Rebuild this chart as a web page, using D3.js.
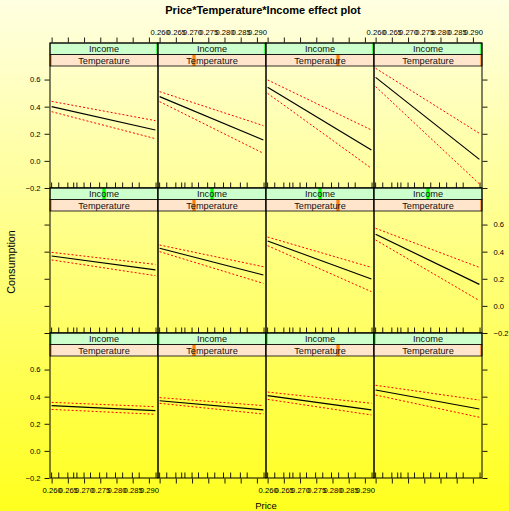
<!DOCTYPE html>
<html>
<head>
<meta charset="utf-8">
<script src="https://cdn.jsdelivr.net/npm/d3@7"></script>
<style>
  body { margin: 0; }
  svg { display: block; font-family: "Liberation Sans", Arial, sans-serif; }
</style>
</head>
<body>
<svg id="chart" width="509" height="511"></svg>
<script>
/* global d3 */

// chart values
const priceTicks = [0.260, 0.265, 0.270, 0.275, 0.280, 0.285, 0.290];
const priceTickLabels = ['0.260', '0.265', '0.270', '0.275', '0.280', '0.285', '0.290'];
const consTicks = [-0.2, 0.0, 0.2, 0.4, 0.6];
const consTickLabels = ['\u22120.2', '0.0', '0.2', '0.4', '0.6'];
const priceRange = [0.260, 0.292];
const rugPrices = [0.2600, 0.2622, 0.2650, 0.2668, 0.2678, 0.2700, 0.2720, 0.2748,
  0.2770, 0.2797, 0.2819, 0.2849, 0.2870, 0.2922];

// rows: Income high -> low, columns: Temperature low -> high
const incomeLevel = [1, 0.5, 0];
const temperatureLevel = [0, 1 / 3, 2 / 3, 1];

// fitted value and bands at the two ends of priceRange
const fitLeft = [
  [0.400, 0.474, 0.543, 0.616],
  [0.368, 0.425, 0.479, 0.528],
  [0.334, 0.370, 0.407, 0.449]];
const fitRight = [
  [0.228, 0.154, 0.080, 0.011],
  [0.265, 0.228, 0.198, 0.159],
  [0.297, 0.302, 0.302, 0.309]];
const upperLeft = [
  [0.439, 0.511, 0.597, 0.683],
  [0.395, 0.449, 0.508, 0.572],
  [0.358, 0.393, 0.434, 0.484]];
const upperRight = [
  [0.297, 0.260, 0.228, 0.203],
  [0.306, 0.289, 0.284, 0.284],
  [0.326, 0.334, 0.351, 0.375]];
const lowerLeft = [
  [0.363, 0.437, 0.498, 0.548],
  [0.339, 0.400, 0.444, 0.486],
  [0.306, 0.351, 0.380, 0.412]];
const lowerRight = [
  [0.164, 0.056, -0.055, -0.170],
  [0.223, 0.166, 0.105, 0.039],
  [0.270, 0.272, 0.265, 0.248]];

const svg = d3.select('#chart');

// background gradient
const grad = svg.append('defs').append('linearGradient')
  .attr('id', 'bg').attr('x1', 0).attr('y1', 0).attr('x2', 0).attr('y2', 1);
grad.append('stop').attr('offset', '0%').attr('stop-color', '#ffffe2');
grad.append('stop').attr('offset', '100%').attr('stop-color', '#ffff1e');
svg.append('rect').attr('width', 509).attr('height', 511).attr('fill', 'url(#bg)');

const gridLeft = 50;
const gridTop = 43;
const panelW = 108;
const panelH = 145;
const stripH = 11.5;

svg.append('text')
  .attr('x', 263).attr('y', 14)
  .attr('text-anchor', 'middle')
  .attr('font-size', 11).attr('font-weight', 'bold')
  .text('Price*Temperature*Income effect plot');

svg.append('text')
  .attr('transform', 'translate(15,262) rotate(-90)')
  .attr('text-anchor', 'middle')
  .attr('font-size', 10.8)
  .text('Consumption');

svg.append('text')
  .attr('x', 266).attr('y', 509)
  .attr('text-anchor', 'middle')
  .attr('font-size', 9.5)
  .text('Price');

function strip(g, x0, y0, label, fill, mark, level) {
  g.append('rect').attr('x', x0).attr('y', y0).attr('width', panelW).attr('height', stripH)
    .attr('fill', fill);
  let cx = x0 + level * panelW;
  let a = Math.max(x0, cx - 1.6);
  let b = Math.min(x0 + panelW, cx + 1.6);
  g.append('rect').attr('x', a).attr('y', y0).attr('width', b - a).attr('height', stripH)
    .attr('fill', mark);
  g.append('rect').attr('x', x0).attr('y', y0).attr('width', panelW).attr('height', stripH)
    .attr('fill', 'none').attr('stroke', '#000').attr('stroke-width', 0.8);
  g.append('text').attr('x', x0 + panelW / 2).attr('y', y0 + 9)
    .attr('text-anchor', 'middle').attr('font-size', 9.2).attr('fill', '#111')
    .text(label);
}

function styleAxis(g) {
  g.select('.domain').remove();
  g.selectAll('.tick line').attr('stroke', '#000').attr('stroke-width', 0.9);
  g.selectAll('.tick text').attr('font-size', 7.6).attr('fill', '#000')
    .attr('font-family', '"Liberation Sans", Arial, sans-serif');
}

for (let r = 0; r < 3; r += 1) {
  for (let c = 0; c < 4; c += 1) {
    let x0 = gridLeft + c * panelW;
    let y0 = gridTop + r * panelH;
    let g = svg.append('g');

    let x = d3.scaleLinear().domain([0.2595, 0.2928]).range([x0, x0 + panelW]);
    let y = d3.scaleLinear().domain([-0.2, 0.7]).range([y0 + panelH, y0 + 2 * stripH]);

    strip(g, x0, y0, 'Income', '#ccffcc', '#00ff00', incomeLevel[r]);
    strip(g, x0, y0 + stripH, 'Temperature', '#ffe5cc', '#ff7f00', temperatureLevel[c]);

    // rug
    g.selectAll('line.rug').data(rugPrices).enter().append('line')
      .attr('class', 'rug')
      .attr('x1', (d) => x(d)).attr('x2', (d) => x(d))
      .attr('y1', y0 + panelH).attr('y2', y0 + panelH - 5.5)
      .attr('stroke', '#000').attr('stroke-width', 0.9);

    let line = d3.line().x((d) => x(d[0])).y((d) => y(d[1]));
    let clipId = `clip${r}${c}`;
    g.append('clipPath').attr('id', clipId).append('rect')
      .attr('x', x0).attr('y', y0 + 2 * stripH).attr('width', panelW).attr('height', panelH - 2 * stripH);

    let bands = [
      [[priceRange[0], upperLeft[r][c]], [priceRange[1], upperRight[r][c]]],
      [[priceRange[0], lowerLeft[r][c]], [priceRange[1], lowerRight[r][c]]]];
    g.selectAll('path.band').data(bands).enter().append('path')
      .attr('class', 'band')
      .attr('d', line)
      .attr('clip-path', `url(#${clipId})`)
      .attr('fill', 'none').attr('stroke', '#ff0000').attr('stroke-width', 1)
      .attr('stroke-dasharray', '2,2');
    g.append('path')
      .attr('d', line([[priceRange[0], fitLeft[r][c]], [priceRange[1], fitRight[r][c]]]))
      .attr('clip-path', `url(#${clipId})`)
      .attr('fill', 'none').attr('stroke', '#000').attr('stroke-width', 1.2);

    // panel border
    g.append('rect').attr('x', x0).attr('y', y0).attr('width', panelW).attr('height', panelH)
      .attr('fill', 'none').attr('stroke', '#000').attr('stroke-width', 1);

    // y axes
    if (c === 0) {
      let ax = g.append('g').attr('transform', `translate(${x0 - 0.5},0)`)
        .call(d3.axisLeft(y).tickValues(consTicks).tickSize(5).tickPadding(4)
          .tickFormat((d, i) => (r === 1 ? '' : consTickLabels[i])));
      styleAxis(ax);
    }
    if (c === 3) {
      let ax = g.append('g').attr('transform', `translate(${x0 + panelW + 0.5},0)`)
        .call(d3.axisRight(y).tickValues(consTicks).tickSize(5).tickPadding(6)
          .tickFormat((d, i) => (r === 1 ? consTickLabels[i] : '')));
      styleAxis(ax);
    }
    // x axes
    if (r === 0) {
      let ax = g.append('g').attr('transform', `translate(0,${y0 - 0.5})`)
        .call(d3.axisTop(x).tickValues(priceTicks).tickSize(5).tickPadding(3)
          .tickFormat((d, i) => (c % 2 === 1 ? priceTickLabels[i] : '')));
      styleAxis(ax);
    }
    if (r === 2) {
      let ax = g.append('g').attr('transform', `translate(0,${y0 + panelH + 0.5})`)
        .call(d3.axisBottom(x).tickValues(priceTicks).tickSize(5).tickPadding(4)
          .tickFormat((d, i) => (c % 2 === 0 ? priceTickLabels[i] : '')));
      styleAxis(ax);
    }
  }
}
</script>
</body>
</html>
